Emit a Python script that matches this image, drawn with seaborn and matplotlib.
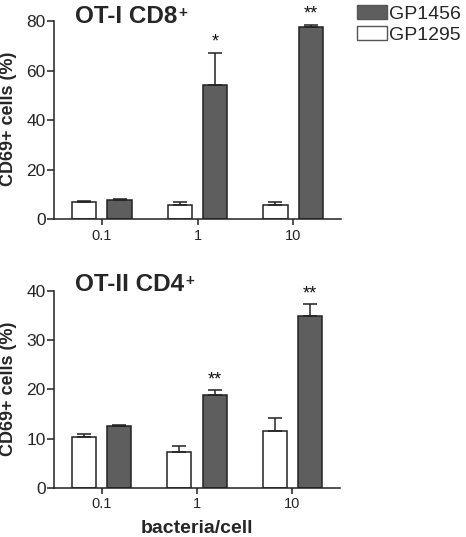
import numpy as np
import pandas as pd
import matplotlib
matplotlib.use("Agg")
import matplotlib.pyplot as plt
import seaborn as sns
from matplotlib.patches import Patch

sns.set_theme(style="ticks")
plt.rcParams['font.family'] = ['Liberation Sans', 'DejaVu Sans']

doses = ["0.1", "1", "10"]
groups = ["GP1295", "GP1456"]

cd8_gp1295 = [6.7, 5.8, 5.8]
cd8_gp1295_err = [0.4, 0.9, 0.9]
cd8_gp1456 = [7.8, 54.3, 77.6]
cd8_gp1456_err = [0.3, 12.8, 0.9]
cd8_stars = ["", "*", "**"]

cd4_gp1295 = [10.3, 7.2, 11.5]
cd4_gp1295_err = [0.6, 1.3, 2.6]
cd4_gp1456 = [12.5, 18.8, 35.0]
cd4_gp1456_err = [0.2, 1.0, 2.4]
cd4_stars = ["", "**", "**"]

colors = {"GP1295": "#ffffff", "GP1456": "#5e5e5e"}

W, H = 466, 537
fig = plt.figure(figsize=(W / 100, H / 100), dpi=100)


def panel(rect, v1295, e1295, v1456, e1456, stars, ymax, yticks, title, title_y, star_off):
    ax = fig.add_axes(rect)
    df = pd.DataFrame({
        "dose": doses * 2,
        "group": ["GP1295"] * 3 + ["GP1456"] * 3,
        "value": list(v1295) + list(v1456),
    })
    sns.barplot(data=df, x="dose", y="value", hue="group", order=doses,
                hue_order=groups, palette=colors, width=0.74, gap=0.32,
                edgecolor="#222222", linewidth=1.1, errorbar=None, legend=False, ax=ax)
    bars = [p for p in ax.patches if p.get_height() > 0][:6]
    errs = list(e1295) + list(e1456)
    for bar, err in zip(bars, errs):
        xc = bar.get_x() + bar.get_width() / 2
        h = bar.get_height()
        ax.errorbar([xc], [h], yerr=[[0], [err]], fmt="none", ecolor="#222222",
                    elinewidth=1.1, capsize=5, capthick=1.1, zorder=1)
    dark = bars[3:6]
    for bar, err, s in zip(dark, e1456, stars):
        if s:
            xc = bar.get_x() + bar.get_width() / 2
            ax.text(xc, bar.get_height() + err + star_off, s, ha="center", va="bottom",
                    fontsize=13, color="#111111")
    ax.set_xlim(-0.5, 2.5)
    ax.set_ylim(0, ymax)
    ax.set_yticks(yticks)
    ax.set_yticklabels([str(t) for t in yticks], fontsize=12.5)
    ax.set_xticks(range(3))
    ax.set_xticklabels(doses, fontsize=10.5)
    ax.tick_params(axis="y", length=5, width=1.1, color="#222222", pad=1)
    ax.tick_params(axis="x", length=4, width=1.1, color="#222222", pad=3)
    sns.despine(ax=ax)
    for sp in ["left", "bottom"]:
        ax.spines[sp].set_linewidth(1.1)
        ax.spines[sp].set_color("#222222")
    ax.set_xlabel("")
    ax.set_ylabel("CD69+ cells (%)", fontsize=13, fontweight="bold")
    ax.yaxis.set_label_coords(-0.13, 0.505)
    t = ax.text(0.073, title_y, title, transform=ax.transAxes, fontsize=17.5,
                fontweight="bold", ha="left", va="baseline")
    ax.annotate("+", xy=(1.0, 0.97), xycoords=t, xytext=(1, 0), textcoords="offset points",
                fontsize=11, fontweight="bold", ha="left", va="top")
    return ax


ax1 = panel([54 / W, 1 - 219 / H, 287 / W, 198 / H],
            cd8_gp1295, cd8_gp1295_err, cd8_gp1456, cd8_gp1456_err, cd8_stars,
            80, [0, 20, 40, 60, 80], "OT-I CD8", 0.99, 0.8)

ax2 = panel([54 / W, 1 - 487.7 / H, 286 / W, 196.7 / H],
            cd4_gp1295, cd4_gp1295_err, cd4_gp1456, cd4_gp1456_err, cd4_stars,
            40, [0, 10, 20, 30, 40], "OT-II CD4", 1.0, 0.3)
ax2.set_xlabel("bacteria/cell", fontsize=14, fontweight="bold", labelpad=6)

handles = [Patch(facecolor=colors["GP1456"], edgecolor="#555555", label="GP1456"),
           Patch(facecolor=colors["GP1295"], edgecolor="#555555", label="GP1295")]
fig.legend(handles=handles, loc="upper left", bbox_to_anchor=(357 / W, 1 - 5 / H),
           frameon=False, fontsize=14, handlelength=1.55, handleheight=0.75,
           handletextpad=0.12, labelspacing=0.15, borderaxespad=0, borderpad=0)

fig.savefig("out.png", dpi=100)
